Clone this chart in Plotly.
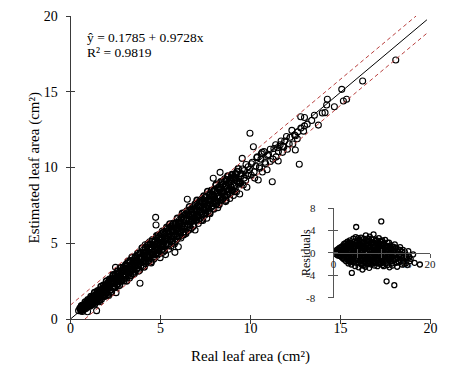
import plotly.graph_objects as go

# ---------------- data ----------------
real_low = [0.45,0.52,0.58,0.63,0.66,0.71,0.75,0.78,0.83,0.88,
            0.91,0.95,0.98,1.02,1.05,1.08,1.12,1.15,1.18,1.22,
            1.25,1.28,1.31,1.35,1.38,1.41,1.45,1.48,1.52,1.55,
            1.58,1.62,1.65,1.68,1.72,1.75,1.78,1.82,1.85,1.88,
            1.92,1.95,1.98,2.02,2.05,2.08,2.12,2.15,2.18,2.22,
            2.25,2.28,2.32,2.35,2.38,2.42,2.45,2.50,2.53,2.56,
            2.60,2.63,2.67,2.70,2.74,2.78,2.84,2.88,2.92,2.96,
            3.00,3.04,3.08,3.12,3.16,3.20,3.24,3.28,3.32,3.36,
            3.40,3.44,3.48,3.52,3.56,3.60,3.64,3.68,3.72,3.76,
            3.80,3.84,3.86,3.90,3.94,3.98,4.02,1.10,1.60,2.30,
            0.60,0.85,1.40,1.90,2.40,2.90,3.10,3.30,3.55,3.75]
est_low = [0.55,0.70,0.62,0.81,0.50,0.74,0.92,0.66,0.85,1.02,
           0.78,0.48,1.15,0.90,1.22,0.84,1.05,1.38,0.95,1.20,
           1.02,1.46,1.25,0.98,1.58,1.33,0.55,1.40,1.72,1.18,
           1.52,1.14,1.85,1.62,1.30,1.95,1.70,1.48,2.10,1.82,
           1.60,2.22,1.95,1.72,2.35,2.02,1.55,2.48,2.20,1.92,
           2.62,2.35,2.05,2.80,2.48,2.15,2.70,3.41,1.74,2.58,
           2.92,2.30,2.75,3.05,2.50,2.88,2.69,3.22,2.62,3.35,
           2.95,3.50,2.78,3.22,3.68,3.02,3.40,2.70,3.85,3.28,
           3.60,2.95,3.90,3.45,3.15,4.05,3.70,3.30,4.20,3.58,
           3.95,3.22,2.36,4.32,3.75,4.10,3.48,1.30,1.75,2.55,
           0.85,0.70,1.50,2.08,2.90,2.80,3.30,3.10,3.80,3.40]

real_mid = [4.05,4.08,4.12,4.15,4.18,4.22,4.26,4.30,4.33,4.37,
            4.40,4.44,4.48,4.52,4.55,4.58,4.62,4.66,4.70,4.73,
            4.75,4.78,4.82,4.85,4.88,4.92,4.95,4.98,5.02,5.06,
            5.10,5.13,5.17,5.20,5.24,5.28,5.31,5.35,5.38,5.42,
            5.45,5.48,5.52,5.55,5.58,5.62,5.66,5.70,5.73,5.77,
            5.80,5.83,5.87,5.90,5.94,5.97,5.99,6.03,6.06,6.10,
            6.13,6.17,6.20,6.24,6.28,6.31,6.35,6.38,6.42,6.46,
            6.49,6.52,6.56,6.60,6.63,6.67,6.70,6.74,6.78,6.81,
            6.85,6.88,6.92,6.95,6.99,7.02,7.06,7.10,7.13,7.17,
            7.20,7.24,7.28,7.31,7.35,7.39,7.42,7.46,7.50,7.53,
            7.57,7.60,7.64,7.68,7.71,7.75,7.78,7.82,7.86,7.89,
            7.93,7.96,4.50,5.00,5.60,6.00,6.50,7.00,7.45,7.90]
est_mid = [4.55,3.85,4.30,4.90,3.65,4.45,4.05,4.85,3.95,4.62,
           5.10,4.20,3.70,4.75,5.25,4.40,3.95,4.95,4.55,6.71,
           6.20,5.40,4.20,4.80,5.55,4.50,5.05,4.05,5.35,4.75,
           5.80,4.40,5.15,4.85,5.65,4.25,5.35,5.95,4.90,5.50,
           4.60,6.05,5.20,5.75,4.80,5.45,6.20,5.05,5.85,4.95,
           4.40,5.60,6.35,5.25,5.95,5.45,4.77,6.50,5.70,6.10,
           5.35,6.70,5.90,6.30,5.55,7.00,6.10,5.75,6.55,6.95,
           7.90,6.25,5.85,6.80,7.20,6.40,5.95,7.05,6.60,7.40,
           6.20,6.85,5.87,7.30,6.55,7.65,6.90,6.30,7.15,7.75,
           6.65,7.40,6.95,7.95,6.50,7.20,7.70,6.85,8.05,7.35,
           6.65,7.85,7.10,8.25,7.55,6.95,8.05,7.40,8.50,7.70,
           9.29,7.25,4.55,5.05,5.10,6.15,6.60,7.10,7.55,8.10]

real_core = [0.55,0.59,0.62,0.67,0.70,0.74,0.79,0.82,0.86,0.90,
             0.93,0.97,1.00,1.04,1.07,1.11,1.14,1.17,1.21,1.24,
             1.27,1.30,1.34,1.37,1.40,1.44,1.47,1.50,1.54,1.57,
             1.60,1.63,1.67,1.70,1.73,1.77,1.80,1.83,1.87,1.90,
             1.94,1.97,2.00,2.04,2.07,2.11,2.14,2.17,2.21,2.24,
             2.27,2.31,2.34,2.37,2.41,2.44,2.48,2.51,2.55,2.58,
             2.62,2.65,2.69,2.72,2.76,2.79,2.83,2.86,2.90,2.93,
             2.97,3.00,3.04,3.07,3.11,3.14,3.18,3.21,3.25,3.28,
             3.32,3.35,3.39,3.42,3.46,3.49,3.53,3.56,3.60,3.63,
             3.67,3.70,3.74,3.77,3.81,3.84,3.88,3.91,3.95,3.98,
             4.02,4.05,4.09,4.12,4.16,4.19,4.23,4.26,4.30,4.33,
             4.37,4.40,4.44,4.47,4.51,4.54,4.58,4.61,4.65,4.68,
             4.72,4.75,4.79,4.82,4.86,4.89,4.93,4.96,5.00,5.03,
             5.07,5.10,5.14,5.17,5.21,5.24,5.28,5.31,5.35,5.38,
             5.42,5.45,5.49,5.52,5.56,5.59,5.63,5.66,5.70,5.73,
             5.77,5.80,5.84,5.87,5.91,5.94,5.98,6.01,6.05,6.08,
             6.12,6.15,6.19,6.22,6.26,6.29,6.33,6.36,6.40,6.43,
             6.47,6.50,6.54,6.57,6.61,6.64,6.68,6.71,6.75,6.78,
             6.82,6.85,6.89,6.92,6.96,6.99,7.03,7.06,7.10,7.13,
             7.17,7.20,7.24,7.27,7.31,7.34,7.38,7.41,7.45,7.48,
             7.52,7.55,7.59,7.62,7.66,7.69,7.73,7.76,7.80,7.83,
             7.87,7.90,7.94,7.97,8.01,8.04,8.08,8.11,8.15,8.18,
             8.22,8.25,8.29,8.32,8.36,8.39,8.43,8.46,8.50,8.53,
             8.57,8.60,8.64,8.67,8.71,8.74,8.78,8.81,8.85,8.88,
             8.92,8.96,9.01,9.06,9.12,9.18,9.25,9.32,9.40,9.48]
est_core = [0.70,0.54,0.87,0.67,0.90,0.64,0.89,1.12,0.81,1.10,
            0.93,1.27,0.85,1.24,1.12,0.91,1.49,1.27,1.11,1.49,
            1.02,1.45,1.74,1.27,1.60,1.14,1.57,1.85,1.39,1.62,
            1.90,1.28,1.77,2.15,1.63,1.97,1.55,2.23,1.87,1.50,
            2.19,1.77,2.50,2.09,1.62,2.41,2.04,2.62,1.91,2.39,
            1.77,2.66,2.34,2.92,2.16,2.64,2.08,2.96,2.60,2.28,
            3.17,2.50,2.99,2.22,2.86,3.39,2.53,3.11,2.85,3.38,
            2.52,3.20,2.94,3.57,2.51,3.49,3.18,3.81,2.95,3.43,
            3.77,2.85,3.49,4.07,3.26,3.79,2.98,3.76,3.55,4.13,
            3.32,3.85,4.34,3.17,4.06,3.69,4.33,3.51,4.00,4.68,
            3.77,4.40,3.44,4.22,4.71,3.79,4.43,4.16,4.95,3.83,
            4.67,4.20,4.94,3.77,4.61,5.14,4.23,4.86,4.10,5.08,
            4.72,4.30,5.49,4.97,4.56,5.34,4.33,5.26,4.90,5.63,
            4.57,5.30,4.94,5.72,4.51,5.59,5.33,4.91,6.05,5.23,
            5.82,4.85,5.64,6.27,5.26,6.09,5.13,5.76,6.30,5.48,
            6.07,5.10,6.29,5.87,5.46,6.64,5.83,6.36,5.45,6.28,
            5.77,6.75,6.14,6.97,5.71,6.54,6.13,6.86,5.65,6.53,
            7.12,6.10,6.84,6.47,7.41,6.04,6.88,7.21,6.45,6.83,
            6.12,7.25,6.69,7.57,6.51,7.14,7.83,6.76,7.45,6.53,
            7.42,7.05,7.84,6.52,7.71,7.34,6.93,8.11,7.20,7.78,
            6.97,8.05,7.49,8.42,7.31,7.89,7.03,8.21,7.80,8.48,
            7.47,8.20,7.29,8.07,8.56,7.79,8.83,7.61,8.35,8.08,
            8.67,7.55,8.54,8.02,9.06,8.39,7.88,8.86,8.35,9.13,
            8.12,8.80,7.84,9.17,8.61,9.44,8.43,8.96,8.25,9.23,
            8.72,9.51,8.51,9.31,8.42,9.58,9.10,9.92,9.00,9.58]

real_high = [8.02,8.06,8.10,8.14,8.18,8.22,8.26,8.31,8.35,8.40,
             8.44,8.48,8.53,8.57,8.62,8.66,8.71,8.75,8.80,8.85,
             8.90,8.95,9.00,9.05,9.10,9.16,9.22,9.28,9.34,9.40,
             9.46,9.54,9.60,9.66,9.73,9.80,9.87,9.97,10.04,10.10,
             10.16,10.23,10.30,10.38,10.43,10.50,10.58,10.66,10.75,10.84,
             10.92,11.00,11.10,11.21,11.30,11.42,11.54,11.65,11.78,11.90,
             12.05,12.20,12.35,12.49,12.62,12.71,12.79,12.95,13.15,13.40,
             13.77,13.99,14.14,14.23,14.27,14.66,15.07,15.16,15.34,16.23,
             18.07,13.55,12.50,11.50,10.60,9.90,9.20,8.70,13.00,11.80,
             9.05,9.15,9.25,9.35,9.45,9.55,9.65,9.75,9.85,9.95,
             10.05,10.20,10.35,10.50,10.65,10.80,10.95,11.10,11.25,11.40,
             11.55,11.70,11.85,12.00,12.15,12.30,12.45,12.60,12.80,13.00]
est_high = [8.45,7.60,8.90,8.10,7.35,8.65,8.00,9.68,7.80,8.55,
            9.05,7.95,8.40,9.25,7.75,8.75,8.20,9.40,8.55,7.95,
            9.10,8.45,9.55,8.15,8.80,9.30,8.40,9.70,8.90,8.25,
            9.45,10.60,8.85,9.80,9.15,8.70,10.05,12.26,9.50,10.35,
            11.37,9.30,10.10,10.70,9.17,9.95,10.55,9.70,11.05,10.25,
            9.85,10.85,10.40,9.06,11.25,10.70,10.43,11.50,11.00,11.75,
            11.20,12.00,11.55,11.16,12.35,10.21,13.35,12.40,12.85,13.10,
            12.80,13.60,13.62,14.13,14.50,14.01,15.16,14.39,14.50,15.71,
            17.10,13.45,12.10,11.30,10.90,9.60,9.50,8.60,13.30,11.40,
            9.40,8.60,9.75,9.05,8.95,9.90,9.30,10.20,9.45,9.85,
            10.25,9.70,10.65,10.05,11.00,10.35,10.80,11.20,10.55,11.50,
            11.05,11.75,11.35,12.05,11.55,12.45,12.15,11.90,12.60,12.75]

# reference lines (end points)
fit_x = [0.0, 19.8]
fit_y = [0.0, 19.75]
upper_x = [0.0, 19.2]
upper_y = [0.92, 20.0]
lower_x = [0.8, 19.8]
lower_y = [0.0, 18.86]

# residual inset
res_x = [0.5,0.6,0.7,0.8,0.9,1.0,1.1,1.2,1.3,1.4,
         1.5,1.6,1.7,1.8,1.9,2.0,2.1,2.2,2.3,2.4,
         2.5,2.6,2.7,2.8,2.9,3.0,3.1,3.2,3.3,3.4,
         3.5,3.6,3.7,3.8,3.9,4.0,4.1,4.2,4.3,4.4,
         4.5,4.6,4.7,4.8,4.9,5.0,5.1,5.2,5.3,5.4,
         5.5,5.6,5.7,5.8,5.9,6.0,6.1,6.2,6.3,6.4,
         6.5,6.6,6.7,6.8,6.9,7.0,7.1,7.2,7.3,7.4,
         7.5,7.6,7.7,7.8,7.9,8.0,8.1,8.2,8.3,8.4,
         8.5,8.6,8.7,8.8,8.9,9.0,9.1,9.2,9.3,9.4,
         9.5,9.6,9.7,9.8,9.9,10.0,10.1,10.2,10.3,10.4,
         10.5,10.6,10.7,10.8,10.9,11.0,11.1,11.2,11.3,11.4,
         11.5,11.6,11.7,11.8,11.9,12.0,12.2,12.4,12.6,12.7,
         12.8,13.0,13.2,13.4,13.6,13.8,14.0,14.2,14.4,14.6,
         14.8,15.0,15.2,15.5,15.8,16.0,16.5,16.8,17.9,15.3,
         2.0,2.5,3.0,3.5,4.0,4.5,5.0,5.5,6.0,6.5,
         7.0,7.5,8.0,8.5,9.0,9.5,10.0,10.5,11.0,11.5,
         2.2,2.8,3.3,3.8,4.3,4.8,5.3,5.8,6.3,6.8,
         7.3,7.8,8.3,8.8,9.3,9.8,10.3,10.8,11.3,12.1,
         1.2,1.7,2.6,3.6,4.6,5.6,6.6,7.6,8.6,9.6,
         3.1,4.1,5.1,6.1,7.1,8.1,9.1,10.1,12.5,13.3,
         3.4,4.4,5.4,6.4,7.4,8.4,9.4,10.4,12.3,13.1,
         1.0,1.3,1.6,1.9,2.2,2.5,2.8,3.1,3.4,3.7,
         4.0,4.3,4.6,4.9,5.2,5.5,5.8,6.1,6.4,6.7,
         7.0,7.3,7.6,7.9,8.2,8.5,8.8,9.1,9.4,9.7,
         10.0,10.3,10.6,10.9,11.2,11.5,11.8,12.1,12.4,12.7,
         13.0,13.3,13.6,13.9,14.2,14.5,14.8,15.1,15.4,15.7,
         1.5,2.0,2.4,2.9,3.3,3.9,4.2,4.7,5.1,5.6,
         6.2,6.6,7.1,7.5,8.0,8.4,8.9,9.3,9.8,10.2,
         10.7,11.1,11.6,12.0,12.5,12.9,13.4,13.8,14.3,14.7,
         2.1,2.7,3.2,3.7,4.4,4.9,5.4,5.9,6.4,6.9,
         7.4,7.9,8.4,8.9,9.4,9.9,10.4,10.9,11.4,11.9,
         3.0,3.6,4.1,4.7,5.2,5.7,6.2,6.7,7.2,7.7,
         8.2,8.7,9.2,9.7,10.2,10.7,11.2,11.7,12.2,13.5]
res_y = [0.2,-0.3,0.5,0.0,-0.5,0.7,0.2,-0.4,0.9,-0.1,
         0.5,-0.7,1.1,0.1,-0.9,1.3,0.4,-1.2,0.8,-0.3,
         1.7,-1.5,0.6,-0.8,2.0,0.0,-1.9,1.2,-0.5,2.2,
         -1.2,0.9,-2.1,-3.6,1.6,-0.7,2.5,0.3,-1.6,1.1,
         -2.4,2.8,4.6,-0.2,1.9,-1.3,0.6,-2.6,2.3,-0.8,
         1.4,-1.9,2.7,0.1,-2.2,-3.0,1.8,-0.5,2.5,-1.5,
         0.8,-2.5,3.1,-0.1,1.5,-1.9,2.2,-0.9,0.5,-2.7,
         2.9,-1.2,1.0,-2.1,2.4,-0.4,1.7,-1.6,3.3,0.2,
         -2.3,1.2,-0.7,2.1,-1.8,0.7,-2.4,1.9,-0.2,2.6,
         -1.3,0.4,-2.0,1.4,5.6,-0.9,2.2,-1.7,0.9,-2.4,
         1.6,-0.5,2.3,-1.9,0.3,-5.1,1.2,-2.2,0.6,-1.1,
         1.8,-2.6,0.0,1.3,-1.6,0.8,-2.3,0.4,-5.8,1.5,
         -1.2,0.9,-2.5,0.2,-1.7,1.0,-0.6,-2.1,0.5,-1.4,
         0.1,-1.9,-0.8,0.3,-1.5,-1.1,-0.3,-1.8,-2.1,-2.2,
         0.2,-0.4,0.8,0.3,0.9,0.1,0.5,-0.3,0.4,-0.6,
         0.3,-0.2,0.6,0.0,-0.5,0.5,0.1,-0.4,0.2,-0.7,
         1.0,-1.1,1.3,-0.6,1.5,-1.0,1.1,-1.4,1.0,-1.0,
         1.4,-0.7,1.1,-1.1,1.3,-0.8,1.2,-1.2,1.0,-0.8,
         0.3,-0.2,0.5,-0.3,-0.5,0.8,0.2,0.4,-0.2,-0.4,
         -0.9,-1.4,-1.8,-1.2,-1.5,-1.3,-1.0,-1.5,-1.3,-0.9,
         1.8,2.0,2.1,1.9,2.0,1.8,1.6,1.7,1.0,0.3,
         0.4,-0.6,0.9,-1.0,1.6,-0.2,1.1,-1.4,0.3,1.7,
         -1.7,0.6,-1.1,2.2,-0.1,1.6,-2.0,0.7,-0.9,1.3,
         -0.6,2.5,-1.8,0.5,1.4,-1.0,2.3,-0.3,1.0,-1.6,
         1.5,-0.6,0.6,-1.4,1.8,-0.3,0.7,-1.9,1.1,-0.5,
         -1.8,0.6,-0.5,-1.3,0.2,-0.9,-1.6,-0.4,-1.1,-0.7,
         0.0,-0.7,0.2,1.5,-1.6,0.5,-0.4,0.0,2.6,-0.6,
         1.2,-1.7,0.9,-0.8,1.9,-0.3,0.2,1.7,-1.1,0.6,
         -0.1,-1.6,0.9,-0.5,0.3,-0.9,-1.6,0.5,-1.2,-2.0,
         -0.5,0.9,0.4,-1.0,0.2,1.2,-1.2,2.0,0.6,-1.3,
         1.0,-1.4,0.5,-0.7,-1.9,2.0,-0.2,1.2,-0.8,0.3,
         1.6,-1.6,1.0,-1.8,1.5,-1.0,-2.3,2.1,-2.0,1.7,
         -1.9,1.6,-1.3,2.1,-2.2,0.9,-0.6,-1.3,-0.3,-0.3]

main_ticks = [0, 5, 10, 15, 20]
main_tick_text = ["0", "5", "10", "15", "20"]
inset_x_ticks = [0, 5, 10, 15, 20]
inset_x_text = ["0", "", "", "15", "20"]
inset_y_ticks = [-8, -4, 0, 4, 8]
inset_y_text = ["-8", "-4", "0", "4", "8"]

eq_text = "ŷ = 0.1785 + 0.9728x"
r2_text = "R² = 0.9819"
x_title = "Real leaf area (cm²)"
y_title = "Estimated leaf area (cm²)"
res_title = "Residuals"

# ---------------- figure ----------------
W, H = 459, 383
FONT = "Liberation Serif, 'Times New Roman', Times, serif"
AX = "#3a3a3a"

real_area = real_low + real_mid + real_high
est_area = est_low + est_mid + est_high

fig = go.Figure()
fig.add_trace(go.Scatter(
    x=real_core, y=est_core, mode="markers", xaxis="x", yaxis="y",
    marker=dict(symbol="circle-open", size=6, color="black", line=dict(width=1.6)),
    hoverinfo="skip"))
fig.add_trace(go.Scatter(
    x=real_area, y=est_area, mode="markers", xaxis="x", yaxis="y",
    marker=dict(symbol="circle-open", size=6, color="black", line=dict(width=1.1)),
    hoverinfo="skip"))
fig.add_trace(go.Scatter(x=upper_x, y=upper_y, mode="lines", xaxis="x", yaxis="y",
                         line=dict(color="#b8403f", width=1, dash="4px,3px")))
fig.add_trace(go.Scatter(x=lower_x, y=lower_y, mode="lines", xaxis="x", yaxis="y",
                         line=dict(color="#b8403f", width=1, dash="4px,3px")))
fig.add_trace(go.Scatter(x=fit_x, y=fit_y, mode="lines", xaxis="x", yaxis="y",
                         line=dict(color="black", width=1)))
fig.add_trace(go.Scatter(x=[], y=[], xaxis="x3", yaxis="y3", mode="markers"))
fig.add_trace(go.Scatter(
    x=res_x, y=res_y, mode="markers", xaxis="x2", yaxis="y2",
    marker=dict(symbol="circle-open", size=5, color="black", line=dict(width=1.3)),
    hoverinfo="skip"))
fig.add_trace(go.Scatter(x=[], y=[], xaxis="x4", yaxis="y4", mode="markers"))

def px_x(p):
    return p / W

def px_y(p):
    return (H - p) / H

xdom = [px_x(70.5), px_x(430.5)]
ydom = [px_y(319), px_y(16)]
x2dom = [px_x(333.5), px_x(430)]
y2dom = [px_y(297.5), px_y(208)]
x2pos = px_y(252.7)

tickfont = dict(family=FONT, size=14, color="black")
small_font = dict(family=FONT, size=11, color="#222")

base = dict(showgrid=False, zeroline=False, automargin=False)
fig.update_layout(
    template="none",
    width=W, height=H, margin=dict(l=0, r=0, t=0, b=0, pad=0),
    paper_bgcolor="white", plot_bgcolor="rgba(0,0,0,0)", showlegend=False,
    font=dict(family=FONT, color="black"),
    xaxis=dict(domain=xdom, range=[0, 20], anchor="y", showline=True, linecolor=AX,
               linewidth=1, ticks="outside", ticklen=4, tickcolor=AX, tickwidth=1,
               tickvals=main_ticks, ticktext=main_tick_text, tickfont=tickfont,
               ticklabelstandoff=-8, **base),
    yaxis=dict(domain=ydom, range=[0, 20], anchor="x", showline=True, linecolor=AX,
               linewidth=1, ticks="outside", ticklen=4, tickcolor=AX, tickwidth=1,
               tickvals=main_ticks, ticktext=main_tick_text, tickfont=tickfont,
               ticklabelstandoff=5, **base),
    xaxis3=dict(domain=xdom, range=[0, 20], anchor="y3", overlaying="x", showline=False,
                ticks="inside", ticklen=4, tickcolor=AX, tickwidth=1, tickvals=main_ticks,
                showticklabels=False, **base),
    yaxis3=dict(domain=ydom, range=[0, 20], anchor="x3", overlaying="y", showline=False,
                ticks="inside", ticklen=4, tickcolor=AX, tickwidth=1, tickvals=main_ticks,
                showticklabels=False, **base),
    xaxis2=dict(domain=x2dom, range=[0, 20], anchor="free", position=x2pos, showline=True,
                linecolor="#555", linewidth=1, ticks="outside", ticklen=4, tickcolor="#555",
                tickvals=inset_x_ticks, ticktext=inset_x_text, tickfont=small_font,
                ticklabelstandoff=-3, **base),
    yaxis2=dict(domain=y2dom, range=[-8, 8], anchor="x2", showline=True, linecolor="#555",
                linewidth=1, ticks="outside", ticklen=4.5, tickcolor="#555",
                tickvals=inset_y_ticks, showticklabels=False, **base),
    xaxis4=dict(domain=x2dom, range=[0, 20], anchor="free", position=x2pos, overlaying="x2",
                showline=False, ticks="inside", ticklen=4, tickcolor="#555",
                tickvals=inset_x_ticks, showticklabels=False, **base),
    yaxis4=dict(domain=y2dom, range=[-8, 8], anchor="x4", overlaying="y2", showline=False,
                ticks="inside", ticklen=4.5, tickcolor="#555", tickvals=inset_y_ticks,
                showticklabels=False, **base),
)

# inset y tick labels, placed to the left of the inset axis
for v, t in zip(inset_y_ticks, inset_y_text):
    fig.add_annotation(x=px_x(318), y=v, xref="paper", yref="y2", text=t,
                       showarrow=False, xanchor="right", yanchor="middle",
                       font=small_font)

ann_font = dict(family=FONT, size=13.5, color="black")
fig.add_annotation(x=0.8, y=18.61, xref="x", yref="y", text=eq_text, showarrow=False,
                   xanchor="left", yanchor="middle", font=ann_font)
fig.add_annotation(x=0.8, y=17.62, xref="x", yref="y", text=r2_text, showarrow=False,
                   xanchor="left", yanchor="middle", font=ann_font)
fig.add_annotation(x=px_x(250.3), y=px_y(356), xref="paper", yref="paper", text=x_title,
                   showarrow=False, xanchor="center", yanchor="middle",
                   font=dict(family=FONT, size=15, color="black"))
fig.add_annotation(x=px_x(34), y=px_y(167.5), xref="paper", yref="paper", text=y_title,
                   showarrow=False, xanchor="center", yanchor="middle", textangle=-90,
                   font=dict(family=FONT, size=15, color="black"))
fig.add_annotation(x=px_x(305.5), y=px_y(252.5), xref="paper", yref="paper", text=res_title,
                   showarrow=False, xanchor="center", yanchor="middle", textangle=-90,
                   font=dict(family=FONT, size=12, color="black"))

fig.write_html("out.html", config={"displayModeBar": False},
               post_script="document.body.style.margin='0px';")
